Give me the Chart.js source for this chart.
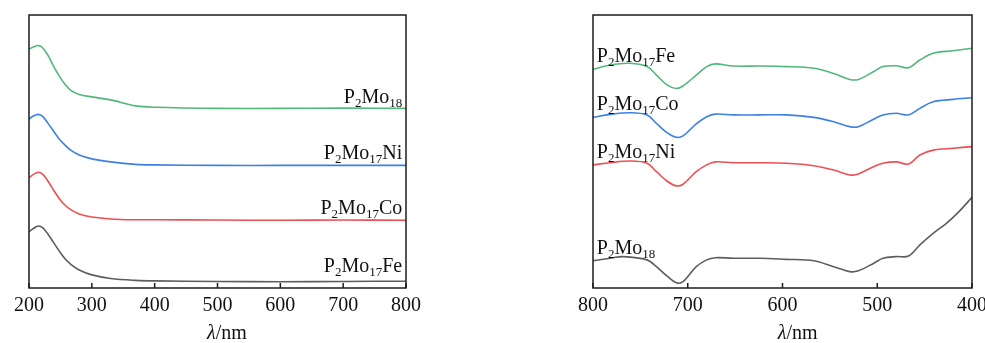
<!DOCTYPE html>
<html>
<head>
<meta charset="utf-8">
<script src="https://cdn.jsdelivr.net/npm/chart.js@4/dist/chart.umd.min.js"></script>
<style>
  html, body { margin: 0; padding: 0; background: #fff; }
  #wrap { position: relative; width: 985px; height: 343px; overflow: hidden; }
  .panel { position: absolute; top: 0; height: 343px; }
  #p1 { left: 0; width: 450px; }
  #p2 { left: 520px; width: 465px; }
</style>
</head>
<body>
<div id="wrap">
  <div class="panel" id="p1"><canvas id="c1"></canvas></div>
  <div class="panel" id="p2"><canvas id="c2"></canvas></div>
</div>
<script>
// ---------- UV spectra (200–800 nm), arbitrary absorbance units ----------
const uvWavelength = [200, 207, 215, 222, 230, 239, 248, 257, 267, 280, 300, 330, 370, 400, 500, 600, 700, 800];
const uvP2Mo18     = [0.875, 0.883, 0.888, 0.879, 0.853, 0.813, 0.777, 0.747, 0.723, 0.709, 0.700, 0.689, 0.667, 0.662, 0.658, 0.658, 0.659, 0.658];
const uvP2Mo17Ni   = [0.619, 0.630, 0.636, 0.628, 0.604, 0.575, 0.546, 0.524, 0.504, 0.487, 0.473, 0.462, 0.453, 0.451, 0.449, 0.449, 0.449, 0.449];
const uvP2Mo17Co   = [0.404, 0.416, 0.424, 0.416, 0.392, 0.359, 0.328, 0.304, 0.286, 0.271, 0.260, 0.253, 0.250, 0.250, 0.249, 0.248, 0.249, 0.248];
const uvP2Mo17Fe   = [0.206, 0.218, 0.227, 0.220, 0.198, 0.167, 0.136, 0.108, 0.086, 0.066, 0.048, 0.035, 0.028, 0.026, 0.024, 0.023, 0.024, 0.025];

// ---------- Visible spectra (800–400 nm) ----------
const visWavelength = [800, 782, 761, 743, 733, 722, 712, 705, 691, 680, 671, 652, 624, 596, 567, 546, 529, 520, 504, 494, 480, 467, 455, 441, 420, 400];
const visP2Mo17Fe   = [0.801, 0.817, 0.823, 0.811, 0.780, 0.744, 0.731, 0.740, 0.780, 0.811, 0.821, 0.813, 0.813, 0.811, 0.805, 0.786, 0.764, 0.764, 0.792, 0.811, 0.814, 0.807, 0.835, 0.860, 0.869, 0.878];
const visP2Mo17Co   = [0.625, 0.636, 0.642, 0.634, 0.603, 0.569, 0.552, 0.557, 0.601, 0.627, 0.637, 0.634, 0.634, 0.634, 0.625, 0.609, 0.591, 0.591, 0.618, 0.634, 0.640, 0.634, 0.658, 0.682, 0.691, 0.697];
const visP2Mo17Ni   = [0.451, 0.459, 0.465, 0.457, 0.426, 0.392, 0.374, 0.380, 0.426, 0.451, 0.462, 0.459, 0.459, 0.457, 0.448, 0.432, 0.414, 0.418, 0.444, 0.457, 0.462, 0.454, 0.487, 0.505, 0.512, 0.518];
const visWavelengthMo18 = [800, 782, 768, 743, 733, 722, 712, 705, 691, 680, 671, 652, 624, 596, 567, 546, 529, 520, 504, 494, 480, 467, 455, 441, 427, 414, 400];
const visP2Mo18     = [0.100, 0.109, 0.115, 0.103, 0.078, 0.044, 0.019, 0.023, 0.078, 0.103, 0.111, 0.109, 0.109, 0.105, 0.100, 0.078, 0.060, 0.063, 0.090, 0.109, 0.115, 0.117, 0.158, 0.200, 0.237, 0.279, 0.332];

// Axis tick values and series names
const uvTicks  = [200, 300, 400, 500, 600, 700, 800];
const visTicks = [400, 500, 600, 700, 800];
const names = { mo18: 'P2Mo18', ni: 'P2Mo17Ni', co: 'P2Mo17Co', fe: 'P2Mo17Fe' };

const COLORS = { mo18: '#52b77b', ni: '#3d80e2', co: '#ee4f52', fe: '#5d5d5d' };
const SERIF = '"Liberation Serif", "Times New Roman", serif';

function pairs(xs, ys) { return xs.map((x, i) => ({ x, y: ys[i] })); }

function series(label, xs, ys, color) {
  return {
    label, data: pairs(xs, ys),
    borderColor: color, borderWidth: 1.6,
    pointRadius: 0, fill: false,
    tension: 0.35
  };
}

// Draws a chemical formula with its digits as subscripts
function drawFormula(ctx, text, x, y, align) {
  const big = '20px ' + SERIF, small = '13px ' + SERIF;
  const parts = text.split(/(\d+)/).filter(s => s.length);
  const widths = parts.map(p => { ctx.font = /\d/.test(p) ? small : big; return ctx.measureText(p).width; });
  const total = widths.reduce((a, b) => a + b, 0);
  let cx = align === 'right' ? x - total : x;
  ctx.textAlign = 'left';
  ctx.textBaseline = 'alphabetic';
  parts.forEach((p, i) => {
    const sub = /\d/.test(p);
    ctx.font = sub ? small : big;
    ctx.fillText(p, cx, sub ? y + 4 : y);
    cx += widths[i];
  });
}

// Frame, inward ticks, curve tags and the λ/nm axis title
const decorations = {
  id: 'decorations',
  afterDraw(chart, args, opts) {
    const { ctx, chartArea: a, scales: { x, y } } = chart;
    ctx.save();
    ctx.strokeStyle = '#1c1c1c';
    ctx.lineWidth = 1.5;
    ctx.strokeRect(a.left, a.top, a.right - a.left, a.bottom - a.top);
    ctx.beginPath();
    x.ticks.forEach(t => {
      const px = x.getPixelForValue(t.value);
      ctx.moveTo(px, a.bottom);
      ctx.lineTo(px, a.bottom - 5);
    });
    ctx.stroke();

    ctx.fillStyle = '#111';
    opts.tags.forEach(t => {
      drawFormula(ctx, t.text, x.getPixelForValue(t.nm), y.getPixelForValue(t.v), t.align);
    });

    // axis title: italic λ followed by /nm
    const cx = x.getPixelForValue(opts.titleAt);
    const ty = 339;
    ctx.font = 'italic 20px ' + SERIF;
    const w1 = ctx.measureText('λ').width;
    ctx.font = '20px ' + SERIF;
    const w2 = ctx.measureText('/nm').width;
    let sx = cx - (w1 + w2) / 2;
    ctx.textAlign = 'left';
    ctx.textBaseline = 'alphabetic';
    ctx.font = 'italic 20px ' + SERIF;
    ctx.fillText('λ', sx, ty);
    ctx.font = '20px ' + SERIF;
    ctx.fillText('/nm', sx + w1, ty);
    ctx.restore();
  }
};

function makeChart(id, datasets, xOpts, padding, tags, titleAt) {
  return new Chart(document.getElementById(id), {
    type: 'line',
    data: { datasets },
    plugins: [decorations],
    options: {
      responsive: true,
      maintainAspectRatio: false,
      animation: false,
      events: [],
      layout: { padding },
      plugins: {
        legend: { display: false },
        tooltip: { enabled: false },
        decorations: { tags, titleAt }
      },
      scales: {
        x: Object.assign({
          type: 'linear',
          grid: { display: false, drawTicks: false },
          border: { display: false },
          ticks: {
            color: '#111',
            padding: 6,
            maxRotation: 0,
            autoSkip: false,
            font: { family: SERIF, size: 20 }
          },
          afterFit(scale) { scale.height = 55; }
        }, xOpts),
        y: { display: false, min: 0, max: 1 }
      }
    }
  });
}

makeChart('c1', [
  series(names.mo18, uvWavelength, uvP2Mo18, COLORS.mo18),
  series(names.ni,   uvWavelength, uvP2Mo17Ni, COLORS.ni),
  series(names.co,   uvWavelength, uvP2Mo17Co, COLORS.co),
  series(names.fe,   uvWavelength, uvP2Mo17Fe, COLORS.fe)
], {
  min: 200, max: 800,
  afterBuildTicks(scale) { scale.ticks = uvTicks.map(value => ({ value })); }
}, { left: 29, right: 44, top: 15, bottom: 0 }, [
  { text: names.mo18, nm: 794, v: 0.679, align: 'right' },
  { text: names.ni,   nm: 794, v: 0.471, align: 'right' },
  { text: names.co,   nm: 794, v: 0.270, align: 'right' },
  { text: names.fe,   nm: 794, v: 0.060, align: 'right' }
], 515);

makeChart('c2', [
  series(names.fe,   visWavelength, visP2Mo17Fe, COLORS.mo18),
  series(names.co,   visWavelength, visP2Mo17Co, COLORS.ni),
  series(names.ni,   visWavelength, visP2Mo17Ni, COLORS.co),
  series(names.mo18, visWavelengthMo18, visP2Mo18, COLORS.fe)
], {
  min: 400, max: 800, reverse: true,
  afterBuildTicks(scale) { scale.ticks = visTicks.map(value => ({ value })); }
}, { left: 73, right: 13, top: 15, bottom: 0 }, [
  { text: names.fe,   nm: 796, v: 0.829, align: 'left' },
  { text: names.co,   nm: 796, v: 0.652, align: 'left' },
  { text: names.ni,   nm: 796, v: 0.475, align: 'left' },
  { text: names.mo18, nm: 796, v: 0.125, align: 'left' }
], 584);
</script>
</body>
</html>
